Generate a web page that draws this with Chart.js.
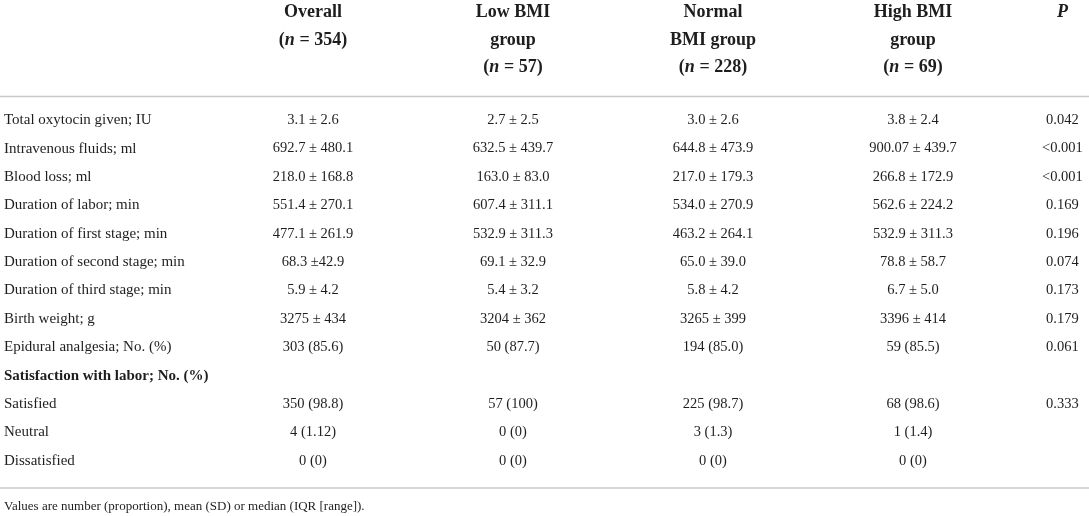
<!DOCTYPE html>
<html>
<head>
<meta charset="utf-8">
<script src="https://cdn.jsdelivr.net/npm/chart.js@4.4.0/dist/chart.umd.min.js"></script>
<style>
  html, body { margin: 0; background: #fff; }
</style>
</head>
<body>
<canvas id="bmi-table" width="1089" height="516"></canvas>
<script>
// table rows (first column)
const rowLabels = [
  'Total oxytocin given; IU',
  'Intravenous fluids; ml',
  'Blood loss; ml',
  'Duration of labor; min',
  'Duration of first stage; min',
  'Duration of second stage; min',
  'Duration of third stage; min',
  'Birth weight; g',
  'Epidural analgesia; No. (%)',
  'Satisfaction with labor; No. (%)',
  'Satisfied',
  'Neutral',
  'Dissatisfied'
];
const sectionRow = 'Satisfaction with labor; No. (%)';

// column headers
const groupKeys = ['Overall', 'Low BMI group', 'Normal BMI group', 'High BMI group'];
const groupHeadLines = [['Overall'], ['Low BMI', 'group'], ['Normal', 'BMI group'], ['High BMI', 'group']];
const groupN = [354, 57, 228, 69];

// cell values, one array per column
const overall = ['3.1 ± 2.6', '692.7 ± 480.1', '218.0 ± 168.8', '551.4 ± 270.1', '477.1 ± 261.9', '68.3 ±42.9',
  '5.9 ± 4.2', '3275 ± 434', '303 (85.6)', null, '350 (98.8)', '4 (1.12)', '0 (0)'];
const lowBmi = ['2.7 ± 2.5', '632.5 ± 439.7', '163.0 ± 83.0', '607.4 ± 311.1', '532.9 ± 311.3', '69.1 ± 32.9',
  '5.4 ± 3.2', '3204 ± 362', '50 (87.7)', null, '57 (100)', '0 (0)', '0 (0)'];
const normalBmi = ['3.0 ± 2.6', '644.8 ± 473.9', '217.0 ± 179.3', '534.0 ± 270.9', '463.2 ± 264.1', '65.0 ± 39.0',
  '5.8 ± 4.2', '3265 ± 399', '194 (85.0)', null, '225 (98.7)', '3 (1.3)', '0 (0)'];
const highBmi = ['3.8 ± 2.4', '900.07 ± 439.7', '266.8 ± 172.9', '562.6 ± 224.2', '532.9 ± 311.3', '78.8 ± 58.7',
  '6.7 ± 5.0', '3396 ± 414', '59 (85.5)', null, '68 (98.6)', '1 (1.4)', '0 (0)'];
const pValues = ['0.042', '<0.001', '<0.001', '0.169', '0.196', '0.074', '0.173', '0.179', '0.061', '', '0.333', '', ''];

const footnote = 'Values are number (proportion), mean (SD) or median (IQR [range]).';

const FONT = '"Liberation Serif", "Times New Roman", serif';
const INK = '#1e1e1e';
const RULE = '#c9c9c9';
const CELL_SIZE = 14.5;
const HEAD_SIZE = 18;

const columns = [overall, lowBmi, normalBmi, highBmi];
const datasets = columns.map((vals, c) => ({
  label: groupKeys[c],
  cells: vals,
  data: vals.map((v, i) => v === null ? null : { x: groupKeys[c], y: rowLabels[i] }).filter(d => d),
  pointRadius: 0,
  pointHoverRadius: 0
}));

// writes the cell texts, the header block and the two rules
const tableText = {
  id: 'tableText',
  afterDatasetsDraw(chart) {
    const { ctx, chartArea } = chart;
    const xs = chart.scales.x;
    ctx.save();
    ctx.fillStyle = INK;

    // body cells
    ctx.font = CELL_SIZE + 'px ' + FONT;
    ctx.textAlign = 'center';
    ctx.textBaseline = 'middle';
    chart.data.datasets.forEach((ds, c) => {
      const meta = chart.getDatasetMeta(c);
      const vals = ds.cells.filter(v => v !== null);
      meta.data.forEach((pt, i) => ctx.fillText(vals[i], pt.x, pt.y));
    });

    // header
    const headTop = chartArea.top - 89;
    const headStep = 27.5;
    ctx.textBaseline = 'alphabetic';
    groupHeadLines.forEach((lines, c) => {
      const cx = xs.getPixelForValue(c);
      ctx.font = 'bold ' + HEAD_SIZE + 'px ' + FONT;
      ctx.textAlign = 'center';
      lines.forEach((ln, k) => ctx.fillText(ln, cx, headTop + k * headStep));
      // (n = N) with italic n
      const parts = [['(', 'bold'], ['n', 'italic bold'], [' = ' + groupN[c] + ')', 'bold']];
      let total = 0;
      parts.forEach(p => { ctx.font = p[1] + ' ' + HEAD_SIZE + 'px ' + FONT; total += ctx.measureText(p[0]).width; });
      let x = cx - total / 2;
      ctx.textAlign = 'left';
      parts.forEach(p => {
        ctx.font = p[1] + ' ' + HEAD_SIZE + 'px ' + FONT;
        ctx.fillText(p[0], x, headTop + lines.length * headStep);
        x += ctx.measureText(p[0]).width;
      });
    });
    const yp = chart.scales.yp;
    const items = yp.getLabelItems();
    const px = items.length ? items[0].options.translation[0] : (yp.left + yp.right) / 2;
    ctx.font = 'italic bold ' + HEAD_SIZE + 'px ' + FONT;
    ctx.textAlign = 'center';
    ctx.fillText('P', px, headTop);

    // rules
    ctx.strokeStyle = RULE;
    ctx.lineWidth = 1.5;
    [chartArea.top - 9.5, chartArea.bottom + 13].forEach(y => {
      ctx.beginPath();
      ctx.moveTo(0, y);
      ctx.lineTo(chart.width, y);
      ctx.stroke();
    });
    ctx.restore();
  }
};

new Chart(document.getElementById('bmi-table').getContext('2d'), {
  type: 'scatter',
  data: { datasets },
  options: {
    responsive: false,
    animation: false,
    layout: { padding: { left: 4, right: 0, top: 0, bottom: 0 } },
    scales: {
      x: {
        type: 'category',
        labels: groupKeys,
        position: 'top',
        offset: true,
        grid: { display: false, drawTicks: false },
        border: { display: false },
        ticks: { display: false },
        afterFit: s => { s.height = 106; }
      },
      y: {
        type: 'category',
        labels: rowLabels,
        position: 'left',
        offset: true,
        grid: { display: false, drawTicks: false },
        border: { display: false },
        ticks: {
          autoSkip: false,
          crossAlign: 'far',
          color: INK,
          font: ctx => ({
            family: FONT,
            size: 15,
            weight: ctx.tick && ctx.tick.label === sectionRow ? 'bold' : 'normal'
          })
        },
        afterFit: s => { s.width = 209; }
      },
      yp: {
        type: 'category',
        labels: pValues,
        position: 'right',
        offset: true,
        grid: { display: false, drawTicks: false },
        border: { display: false },
        ticks: {
          autoSkip: false,
          crossAlign: 'center',
          padding: 29,
          color: INK,
          font: { family: FONT, size: CELL_SIZE }
        },
        afterFit: s => { s.width = 76; }
      }
    },
    plugins: {
      legend: { display: false },
      tooltip: { enabled: false },
      title: {
        display: true,
        text: footnote,
        position: 'bottom',
        align: 'start',
        color: INK,
        font: { family: FONT, size: 13, weight: 'normal' },
        padding: { top: 24.2, bottom: 1.2 }
      }
    }
  },
  plugins: [tableText]
});
</script>
</body>
</html>
